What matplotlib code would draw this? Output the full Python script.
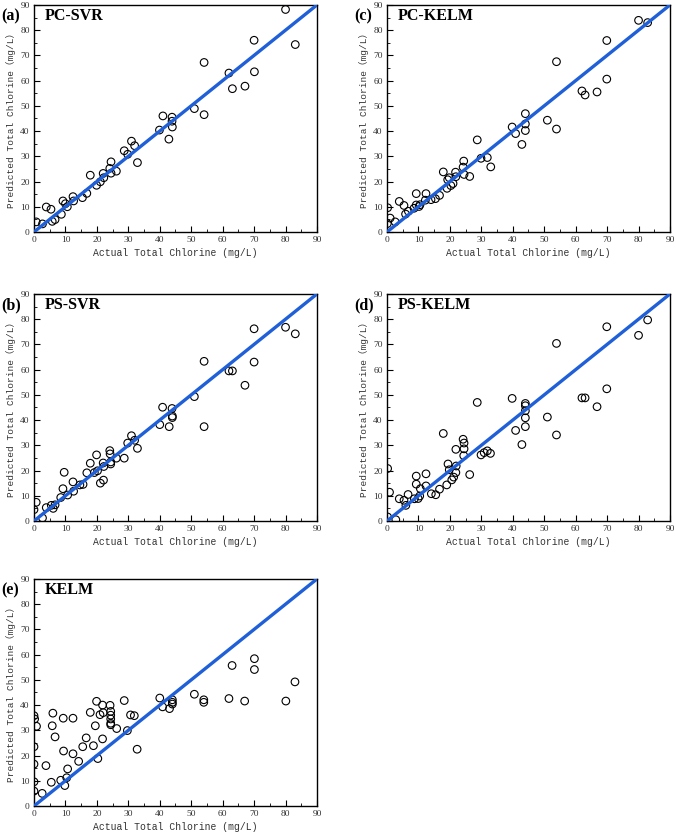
import matplotlib.pyplot as plt
from matplotlib.ticker import MultipleLocator

# Values (mg/L)
pc_svr_actual = [0.7, 2.7, 3.9, 5.4, 5.8, 6.7, 8.7, 9.2, 10.0, 10.6, 12.4, 12.6, 15.4, 16.8,
                 17.9, 19.9, 21.1, 22.0, 22.2, 24.1, 24.5, 24.5, 26.2, 28.7, 29.8, 31.0,
                 32.0, 32.9, 39.9, 41.0, 42.9, 43.9, 43.9, 44.0, 51.0, 54.1, 54.1, 62.0,
                 63.1, 67.1, 70.0, 70.1, 80.0, 83.1]
pc_svr_pred = [4.0, 3.2, 9.9, 9.0, 4.2, 4.9, 7.0, 12.3, 11.2, 10.0, 14.0, 12.3, 13.6, 15.3,
               22.5, 18.5, 19.9, 23.2, 21.5, 25.2, 27.8, 23.3, 24.1, 32.2, 30.8, 36.0,
               34.2, 27.5, 40.4, 46.0, 36.8, 45.5, 43.9, 41.6, 48.9, 67.2, 46.5, 63.0,
               56.8, 57.8, 76.0, 63.5, 88.2, 74.3]

pc_kelm_actual = [0.2, 0.1, 1.0, 2.6, 3.9, 5.4, 5.9, 6.8, 8.6, 9.3, 9.3, 10.2, 10.5, 12.4,
                  12.2, 14.0, 15.4, 16.7, 17.9, 19.1, 19.3, 19.8, 20.3, 21.0, 21.8, 21.9,
                  24.2, 24.4, 24.5, 26.3, 28.7, 29.9, 31.9, 33.0, 39.8, 40.9, 42.9, 44.0,
                  44.0, 44.0, 51.0, 53.9, 53.9, 62.0, 63.0, 66.8, 69.9, 69.9, 80.0, 82.9]
pc_kelm_pred = [9.6, 3.3, 5.5, 4.0, 12.1, 10.5, 7.1, 8.2, 9.4, 15.2, 10.7, 10.1, 10.8, 15.2,
                12.6, 12.8, 13.2, 14.5, 23.8, 17.3, 20.7, 21.5, 18.4, 19.2, 23.7, 21.9,
                25.7, 28.1, 22.8, 22.0, 36.5, 29.2, 29.5, 25.8, 41.6, 39.0, 34.7, 46.9,
                42.8, 40.2, 44.3, 67.5, 40.8, 55.9, 54.3, 55.5, 75.9, 60.6, 83.9, 83.0]

ps_svr_actual = [0.0, 0.7, 2.7, 3.9, 5.5, 6.1, 6.7, 8.5, 9.2, 9.6, 10.7, 12.4, 12.6, 14.6,
                 15.6, 16.8, 17.9, 19.2, 19.9, 20.2, 21.1, 22.1, 22.0, 22.2, 24.1, 24.2,
                 24.4, 24.4, 26.2, 28.7, 29.8, 31.0, 32.0, 32.9, 40.0, 40.9, 43.0, 43.9,
                 44.0, 44.0, 51.0, 54.1, 54.1, 62.0, 63.1, 67.1, 70.0, 70.0, 80.0, 83.1]
ps_svr_pred = [4.5, 7.4, 1.2, 5.3, 6.2, 5.0, 6.4, 9.3, 12.8, 19.3, 10.3, 15.5, 11.8, 14.3,
               14.5, 19.1, 22.9, 19.2, 26.2, 19.9, 15.0, 16.2, 23.0, 21.6, 27.9, 26.6,
               23.4, 22.6, 24.9, 24.9, 30.9, 33.8, 32.0, 28.8, 38.2, 45.1, 37.4, 44.6,
               41.6, 41.0, 49.3, 63.3, 37.4, 59.5, 59.5, 53.8, 76.2, 63.0, 76.8, 74.2]

ps_kelm_actual = [0.2, 0.8, 0.2, 2.8, 3.9, 5.4, 6.0, 6.7, 8.7, 9.3, 9.3, 9.9, 10.4, 10.6,
                  12.4, 12.4, 14.1, 15.5, 16.7, 17.9, 19.0, 19.4, 19.8, 20.6, 21.2, 21.9,
                  21.9, 22.0, 24.2, 24.5, 24.5, 24.4, 26.3, 28.7, 29.9, 30.9, 31.9, 32.9,
                  39.8, 40.9, 42.9, 44.0, 44.0, 44.0, 44.0, 44.0, 51.0, 53.9, 53.9, 62.0,
                  63.0, 66.8, 69.9, 69.9, 80.0, 82.9]
ps_kelm_pred = [20.8, 11.4, 1.6, 0.5, 8.8, 8.2, 6.2, 10.5, 8.8, 17.8, 14.6, 8.9, 9.9, 12.8,
                18.7, 13.9, 10.8, 10.4, 12.6, 34.7, 14.3, 22.6, 20.3, 16.3, 17.4, 19.2,
                28.4, 21.8, 32.4, 30.9, 28.6, 25.9, 18.4, 47.0, 26.2, 27.1, 27.8, 26.8,
                48.6, 35.9, 30.3, 46.6, 45.7, 43.7, 40.9, 37.4, 41.2, 70.4, 34.1, 48.8,
                48.8, 45.3, 77.0, 52.4, 73.6, 79.7]

kelm_actual = [0.0, 0.2, 0.8, 0.0, 0.0, 0.0, 0.0, 2.6, 3.8, 5.5, 6.0, 5.8, 6.7, 8.5, 9.3,
               9.4, 9.8, 10.4, 10.7, 12.4, 12.4, 14.2, 15.5, 16.6, 17.9, 18.9, 19.5, 19.9,
               20.3, 21.0, 21.8, 22.0, 21.8, 24.2, 24.4, 24.4, 24.4, 24.4, 24.4, 26.3,
               28.7, 29.7, 30.7, 31.9, 32.8, 40.0, 40.9, 43.1, 44.0, 44.0, 44.0, 51.0,
               54.0, 54.0, 62.0, 63.0, 67.0, 70.1, 70.1, 80.1, 83.0]
kelm_pred = [35.8, 34.5, 31.6, 23.5, 16.6, 9.6, 5.9, 5.0, 16.0, 9.4, 36.8, 31.8, 27.4, 10.2,
             34.8, 21.8, 8.1, 11.2, 14.7, 34.8, 20.7, 17.7, 23.5, 27.0, 37.1, 23.9, 31.8,
             41.5, 18.8, 36.2, 40.0, 37.0, 26.6, 39.9, 37.5, 36.0, 34.5, 32.8, 32.2, 30.7,
             41.8, 29.9, 36.1, 35.8, 22.5, 42.8, 39.3, 38.6, 42.1, 41.1, 40.4, 44.3,
             42.1, 41.1, 42.6, 55.7, 41.6, 58.4, 54.1, 41.6, 49.2]

LIMIT = 90

panels = [
    ('(a)', 'PC-SVR', pc_svr_actual, pc_svr_pred, [0.0503, 0.7232, 0.4186, 0.2709]),
    ('(c)', 'PC-KELM', pc_kelm_actual, pc_kelm_pred, [0.5725, 0.7232, 0.4186, 0.2709]),
    ('(b)', 'PS-SVR', ps_svr_actual, ps_svr_pred, [0.0503, 0.3783, 0.4186, 0.2709]),
    ('(d)', 'PS-KELM', ps_kelm_actual, ps_kelm_pred, [0.5725, 0.3783, 0.4186, 0.2709]),
    ('(e)', 'KELM', kelm_actual, kelm_pred, [0.0503, 0.0382, 0.4186, 0.2709]),
]

label_fonts = ['Liberation Mono', 'Noto Sans CJK SC']

fig = plt.figure(figsize=(6.76, 8.38), dpi=100)

for tag, name, actual, pred, rect in panels:
    ax = fig.add_axes(rect)
    ax.scatter(actual, pred, s=30, facecolors='none', edgecolors='black',
               linewidths=0.8, zorder=2)
    ax.plot([0, LIMIT], [0, LIMIT], color='#1f5fd8', linewidth=2.4, zorder=3)

    ax.set_xlim(0, LIMIT)
    ax.set_ylim(0, LIMIT)
    ax.xaxis.set_major_locator(MultipleLocator(10))
    ax.yaxis.set_major_locator(MultipleLocator(10))
    ax.xaxis.set_minor_locator(MultipleLocator(5))
    ax.yaxis.set_minor_locator(MultipleLocator(5))
    ax.tick_params(which='both', direction='in', top=False, right=False,
                   labelsize=6.8, labelcolor='#333333', pad=3)
    ax.tick_params(which='major', length=4, width=0.8)
    ax.tick_params(which='minor', length=2, width=0.6)
    for lab in ax.get_xticklabels() + ax.get_yticklabels():
        lab.set_fontfamily('Liberation Serif')
    for sp in ax.spines.values():
        sp.set_linewidth(1.0)

    ax.set_xlabel('Actual Total Chlorine (mg/L)', family=label_fonts,
                  fontsize=7.0, color='#333333', labelpad=3)
    # the y label uses full-width brackets, as in the original figure
    ax.set_ylabel('Predicted Total Chlorine（mg/L）', family=label_fonts,
                  fontsize=6.8, color='#333333', labelpad=3)

    ax.text(0.038, 0.95, name, transform=ax.transAxes, ha='left', va='center',
            family='Liberation Serif', fontweight='bold', fontsize=11.5)
    ax.text(-0.115, 0.95, tag, transform=ax.transAxes, ha='left', va='center',
            family='Liberation Serif', fontweight='bold', fontsize=11.5)

fig.savefig('out.png', dpi=100)
